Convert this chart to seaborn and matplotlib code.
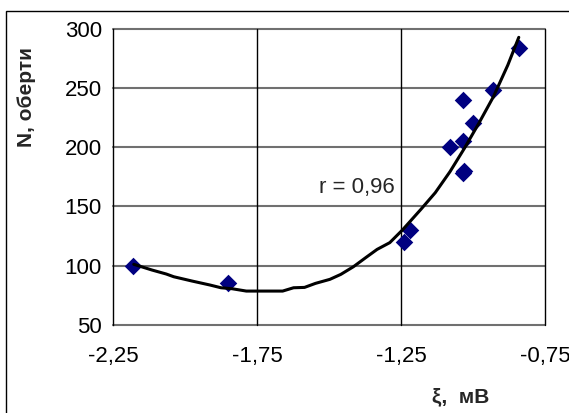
import matplotlib
matplotlib.use("Agg")
import matplotlib.pyplot as plt
import seaborn as sns
import pandas as pd
from matplotlib.patches import Rectangle

# Measured points: zeta potential (mV) vs. rotations N
xi_mv = [-2.18, -1.85, -1.24, -1.22, -1.08, -1.035, -1.035, -1.035, -1.03, -1.0, -0.93, -0.84]
n_rot = [100, 85, 120, 130, 200, 240, 205, 178, 180, 220, 248, 284]

# Trend curve points
trend_x = [-2.178, -2.115, -2.065, -2.039, -1.976, -1.913, -1.875, -1.837, -1.787,
           -1.661, -1.623, -1.585, -1.547, -1.497, -1.459, -1.415, -1.371, -1.333,
           -1.289, -1.245, -1.181, -1.131, -1.080, -1.030, -0.980, -0.929, -0.879, -0.841]
trend_y = [101.0, 96.2, 92.8, 90.5, 86.9, 83.5, 81.2, 80.4, 78.4,
           78.4, 81.2, 81.5, 84.9, 88.3, 92.5, 99.0, 106.9, 113.6,
           119.3, 130.0, 147.4, 161.5, 179.2, 198.9, 220.0, 242.6, 269.3, 292.7]

x_ticks = [-2.25, -1.75, -1.25, -0.75]
x_tick_labels = ["-2,25", "-1,75", "-1,25", "-0,75"]
y_ticks = [50, 100, 150, 200, 250, 300]
y_tick_labels = ["50", "100", "150", "200", "250", "300"]

corr_label = "r = 0,96"
x_label = "ξ,  мВ"
y_label = "N, оберти"

sns.set_style("white")
plt.rcParams["font.family"] = ["Liberation Sans", "DejaVu Sans"]

fig = plt.figure(figsize=(5.69, 4.13), dpi=100)
ax = fig.add_axes([0.1986, 0.2138, 0.9578 - 0.1986, 0.9305 - 0.2138])

points = pd.DataFrame({"xi": xi_mv, "n": n_rot})
trend = pd.DataFrame({"xi": trend_x, "n": trend_y})

ax.set_xlim(-2.25, -0.75)
ax.set_ylim(50, 300)

# grid: grey horizontal lines, black vertical lines
for yv in y_ticks:
    ax.axhline(yv, color="#707070", lw=1.5, clip_on=False, zorder=1)
for xv in x_ticks[1:]:
    ax.axvline(xv, color="black", lw=1.0, clip_on=False, zorder=1)

sns.scatterplot(data=points, x="xi", y="n", marker="D", s=80, color="#000080",
                edgecolor="#000080", linewidth=0, ax=ax, zorder=3, clip_on=False)
sns.lineplot(data=trend, x="xi", y="n", sort=False, color="black", lw=2.2,
             ax=ax, zorder=4)

ax.text(-1.27, 166, corr_label, ha="right", va="center", fontsize=16)

ax.set_xticks(x_ticks)
ax.set_xticklabels(x_tick_labels)
ax.set_yticks(y_ticks)
ax.set_yticklabels(y_tick_labels)
ax.tick_params(axis="both", direction="out", length=5, width=1, color="black",
               labelsize=16, labelcolor="black")
ax.tick_params(axis="x", pad=10)
ax.tick_params(axis="y", pad=3)
ax.set_xlabel("")
ax.set_ylabel("")

for side in ["top", "right", "bottom"]:
    ax.spines[side].set_visible(False)
ax.spines["left"].set_color("black")
ax.spines["left"].set_linewidth(1.0)

fig.text(26 / 569, 1 - 97 / 413, y_label, rotation=90, ha="center", va="center",
         fontsize=15, fontweight="bold")
fig.text(461 / 569, 1 - 397 / 413, x_label, ha="center", va="center",
         fontsize=15, fontweight="bold")

# outer chart frame
fig.patches.append(Rectangle((6 / 569, -0.05), 1.1, 1 - 11 / 413 + 0.05,
                             transform=fig.transFigure, fill=False,
                             edgecolor="black", lw=1.0))

fig.savefig("out.png", dpi=100)
